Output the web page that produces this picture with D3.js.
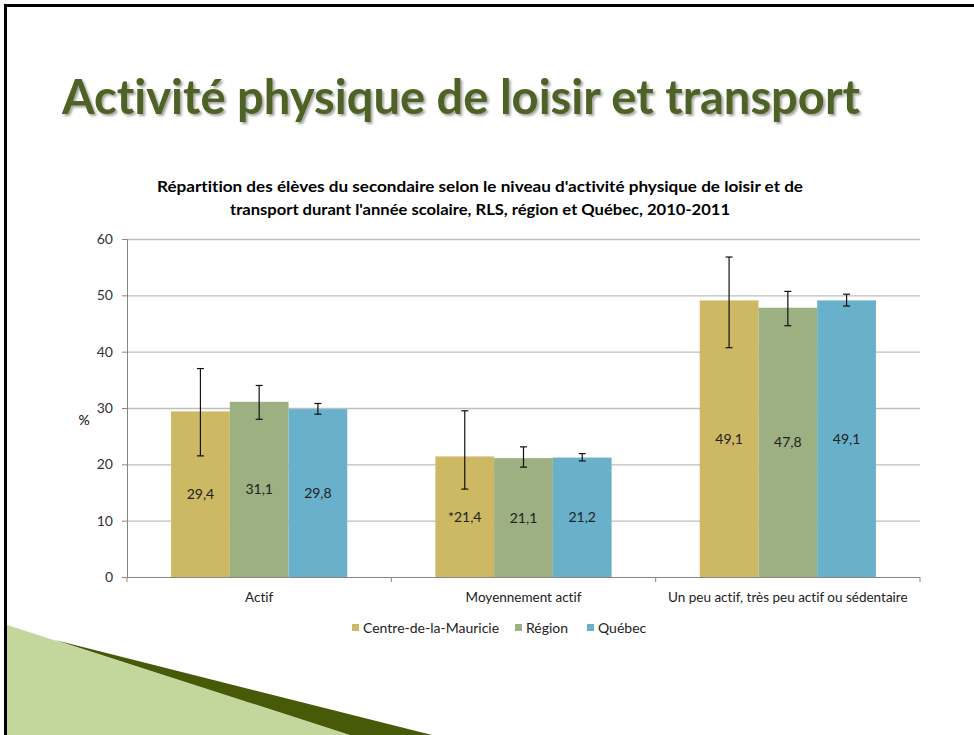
<!DOCTYPE html>
<html>
<head>
<meta charset="utf-8">
<script src="https://cdn.jsdelivr.net/npm/d3@7"></script>
<style>
  body { margin: 0; background: #fff; }
  svg { display: block; font-family: Lato, "Open Sans", sans-serif; font-variant-ligatures: none; }
</style>
</head>
<body>
<div id="slide"></div>
<script>
// categories and series
var categories = ["Actif", "Moyennement actif", "Un peu actif, très peu actif ou sédentaire"];
var series = ["Centre-de-la-Mauricie", "Région", "Québec"];
var colors = ["#CDB864", "#9CB081", "#69B0CA"];

// values (%) per series, one per category
var centreValues = [29.4, 21.4, 49.1];
var regionValues = [31.1, 21.1, 47.8];
var quebecValues = [29.8, 21.2, 49.1];

// data labels as shown
var centreLabels = ["29,4", "*21,4", "49,1"];
var regionLabels = ["31,1", "21,1", "47,8"];
var quebecLabels = ["29,8", "21,2", "49,1"];

// error bar bounds
var centreLow = [21.5, 15.6, 40.7], centreHigh = [37.0, 29.5, 56.8];
var regionLow = [28.0, 19.5, 44.6], regionHigh = [34.0, 23.1, 50.7];
var quebecLow = [28.9, 20.6, 48.1], quebecHigh = [30.8, 21.9, 50.2];

var yTicks = [0, 10, 20, 30, 40, 50, 60];

var width = 974, height = 735;
var plot = {left: 127, right: 920, top: 239, bottom: 577};

var svg = d3.select("#slide").append("svg")
    .attr("width", width)
    .attr("height", height);

// title shadow
var defs = svg.append("defs");
var f = defs.append("filter").attr("id", "shadow")
    .attr("x", "-5%").attr("y", "-20%").attr("width", "110%").attr("height", "150%");
f.append("feDropShadow").attr("dx", 2).attr("dy", 2).attr("stdDeviation", 1)
    .attr("flood-color", "#000").attr("flood-opacity", 0.35);

// decorative shapes bottom left
svg.append("polygon")
    .attr("points", "7,625 350,735 7,735")
    .style("fill", "#C3D69B");
svg.append("polygon")
    .attr("points", "55,640 432,735 350,735")
    .style("fill", "#465A08");

// slide border
svg.append("rect")
    .attr("x", 5.5).attr("y", 5.5)
    .attr("width", 1000).attr("height", 800)
    .style("fill", "none")
    .style("stroke", "#000")
    .style("stroke-width", 3);

// slide title
svg.append("text")
    .attr("x", 62).attr("y", 114)
    .attr("textLength", 798)
    .attr("lengthAdjust", "spacingAndGlyphs")
    .style("font-size", "48px")
    .style("font-weight", "bold")
    .style("fill", "#4F6228")
    .attr("filter", "url(#shadow)")
    .text("Activité physique de loisir et transport");

// chart title
var chartTitle = [
  "Répartition des élèves du secondaire selon le niveau d'activité physique de loisir et de",
  "transport durant l'année scolaire, RLS, région et Québec, 2010-2011"
];
var titleWidths = [646, 500];
svg.selectAll(".ctitle")
    .data(chartTitle)
    .enter().append("text")
    .attr("class", "ctitle")
    .attr("x", 480)
    .attr("y", (d, i) => 192 + i * 23)
    .attr("text-anchor", "middle")
    .attr("textLength", (d, i) => titleWidths[i])
    .attr("lengthAdjust", "spacingAndGlyphs")
    .style("font-size", "15.5px")
    .style("font-weight", "bold")
    .style("fill", "#000")
    .text(d => d);

// scales
var x0 = d3.scaleBand()
    .domain(categories)
    .range([plot.left, plot.right])
    .padding(0);

var x1 = d3.scaleBand()
    .domain(series)
    .range([0, x0.bandwidth()])
    .paddingInner(0)
    .paddingOuter(0.75);

var y = d3.scaleLinear()
    .domain([0, 60])
    .range([plot.bottom, plot.top]);

// gridlines
svg.append("g")
    .attr("class", "grid")
    .attr("transform", `translate(${plot.left},0)`)
    .call(d3.axisLeft(y).tickValues(yTicks.slice(1)).tickSize(-(plot.right - plot.left)).tickFormat(""))
    .call(g => g.select(".domain").remove())
    .selectAll("line")
    .style("stroke", "#BEBEBE")
    .style("stroke-width", 1.3);

// y axis
var yAxis = svg.append("g")
    .attr("transform", `translate(${plot.left},0)`)
    .call(d3.axisLeft(y).tickValues(yTicks).tickSize(5).tickPadding(9));
yAxis.select(".domain").style("stroke", "#868686");
yAxis.selectAll(".tick line").style("stroke", "#868686");
yAxis.selectAll("text")
    .style("font-size", "14px")
    .style("font-family", "Lato, sans-serif")
    .style("fill", "#333");

svg.append("text")
    .attr("x", 84).attr("y", 425)
    .attr("text-anchor", "middle")
    .style("font-size", "14px")
    .style("fill", "#000")
    .text("%");

// bars
var table = series.map(function(s, i) {
  var vals = [centreValues, regionValues, quebecValues][i];
  var labs = [centreLabels, regionLabels, quebecLabels][i];
  var lows = [centreLow, regionLow, quebecLow][i];
  var highs = [centreHigh, regionHigh, quebecHigh][i];
  return categories.map(function(c, j) {
    return {series: s, color: colors[i], cat: c, value: vals[j], label: labs[j], low: lows[j], high: highs[j]};
  });
});
var flat = [].concat.apply([], table);

svg.append("g").selectAll("rect")
    .data(flat)
    .enter().append("rect")
    .attr("x", d => x0(d.cat) + x1(d.series))
    .attr("y", d => y(d.value))
    .attr("width", x1.bandwidth())
    .attr("height", d => y(0) - y(d.value))
    .style("fill", d => d.color);

// x axis line with boundary ticks
svg.append("line")
    .attr("x1", plot.left).attr("x2", plot.right)
    .attr("y1", y(0) + 0.5).attr("y2", y(0) + 0.5)
    .style("stroke", "#868686");
var bounds = categories.map(c => x0(c)).concat([x0.range()[1]]);
svg.append("g").selectAll("line")
    .data(bounds)
    .enter().append("line")
    .attr("x1", d => d).attr("x2", d => d)
    .attr("y1", y(0)).attr("y2", y(0) + 5)
    .style("stroke", "#868686");

svg.append("g").selectAll("text")
    .data(categories)
    .enter().append("text")
    .attr("x", d => x0(d) + x0.bandwidth() / 2)
    .attr("y", 602)
    .attr("text-anchor", "middle")
    .style("font-size", "13.5px")
    .style("fill", "#222")
    .text(d => d);

// error bars
var err = svg.append("g").selectAll("g")
    .data(flat)
    .enter().append("g")
    .style("stroke", "#111")
    .style("stroke-width", 1.2);
var cx = d => x0(d.cat) + x1(d.series) + x1.bandwidth() / 2;
err.append("line")
    .attr("x1", cx).attr("x2", cx)
    .attr("y1", d => y(d.low)).attr("y2", d => y(d.high));
err.append("line")
    .attr("x1", d => cx(d) - 3.5).attr("x2", d => cx(d) + 3.5)
    .attr("y1", d => y(d.high)).attr("y2", d => y(d.high));
err.append("line")
    .attr("x1", d => cx(d) - 3.5).attr("x2", d => cx(d) + 3.5)
    .attr("y1", d => y(d.low)).attr("y2", d => y(d.low));

// data labels in middle of bars
svg.append("g").selectAll("text")
    .data(flat)
    .enter().append("text")
    .attr("x", cx)
    .attr("y", d => y(d.value / 2) + 5)
    .attr("text-anchor", "middle")
    .style("font-size", "14px")
    .style("fill", "#222")
    .text(d => d.label);

// legend
var legendX = [352, 515, 587];
var legend = svg.append("g").selectAll("g")
    .data(series)
    .enter().append("g")
    .attr("transform", (d, i) => `translate(${legendX[i]},628)`);
legend.append("rect")
    .attr("x", 0).attr("y", -4)
    .attr("width", 7).attr("height", 7)
    .style("fill", (d, i) => colors[i]);
legend.append("text")
    .attr("x", 11).attr("y", 5)
    .style("font-size", "14px")
    .style("fill", "#222")
    .text(d => d);
</script>
</body>
</html>
